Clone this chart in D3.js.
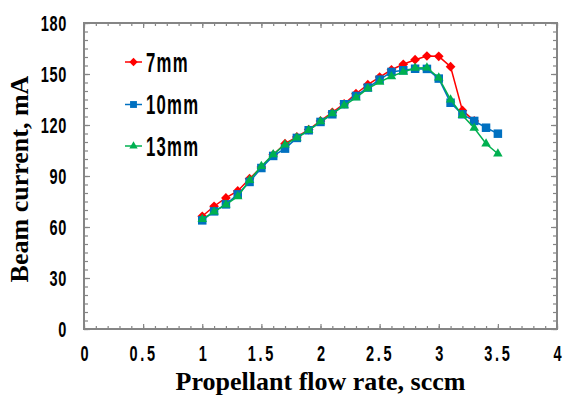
<!DOCTYPE html>
<html><head><meta charset="utf-8">
<script src="https://cdn.jsdelivr.net/npm/d3@7"></script>
<style>
body{margin:0;background:#fff;}
svg{display:block;}
</style></head>
<body>
<svg id="chart" width="563" height="398"></svg>
<script>
const flowRate = [1.0,1.1,1.2,1.3,1.4,1.5,1.6,1.7,1.8,1.9,2.0,2.1,2.2,2.3,2.4,2.5,2.6,2.7,2.8,2.9,3.0,3.1,3.2,3.3,3.4,3.5];
const current7mm  = [66.3,72.2,77.1,81.2,88.4,95.3,102.5,109,113,117.3,122.4,127.5,132.5,138.4,143.7,148.2,152.5,155.7,158.4,160.6,160.4,154.3,128.6,122.4];
const current10mm = [63.9,69.2,73.3,79.2,86.5,94.7,101.8,106.1,112.4,116.9,121.8,126.3,132.2,137.1,142,146.7,151.2,152.2,153.1,153,147.3,133.1,126.3,122.4,118.4,114.9];
const current13mm = [64.5,69,73.1,78,87.5,95.7,102.7,108.4,112.5,116.9,122,126.7,131.4,136.1,141.4,145.3,148.6,151.2,153.5,153.7,147.8,134.9,125.7,118.2,109,103.1];
const seriesNames = ["7mm","10mm","13mm"];
const xTicks = [0,0.5,1,1.5,2,2.5,3,3.5,4];
const yTicks = [0,30,60,90,120,150,180];

const svg = d3.select("#chart");
const X0=84, X1=557, Y0=23, Y1=329;
const x = d3.scaleLinear().domain([0,4]).range([X0,X1]);
const y = d3.scaleLinear().domain([0,180]).range([Y1,Y0]);
const frameColor = "#858585";
const numFont = "'Liberation Sans', Arial, sans-serif";
const SX = 0.66;

// minor ticks
const xMinor = d3.range(0,41).map(i=>i/10);
const yMinor = d3.range(0,37).map(i=>i*5);
function styleTicks(g){ g.select(".domain").remove(); g.selectAll("line").attr("stroke",frameColor).attr("stroke-width",1.2); }
svg.append("g").attr("transform",`translate(0,${Y1})`).call(d3.axisBottom(x).tickValues(xMinor).tickSize(-3).tickFormat("")).call(styleTicks);
svg.append("g").attr("transform",`translate(0,${Y0})`).call(d3.axisTop(x).tickValues(xMinor).tickSize(-3).tickFormat("")).call(styleTicks);
svg.append("g").attr("transform",`translate(${X0},0)`).call(d3.axisLeft(y).tickValues(yMinor).tickSize(-4).tickFormat("")).call(styleTicks);
svg.append("g").attr("transform",`translate(${X1},0)`).call(d3.axisRight(y).tickValues(yMinor).tickSize(-4).tickFormat("")).call(styleTicks);

// major ticks with labels
const gx = svg.append("g").attr("transform",`translate(0,${Y1})`)
  .call(d3.axisBottom(x).tickValues(xTicks).tickSize(-5).tickFormat(d=>String(d))).call(styleTicks);
gx.selectAll("text").attr("y",32.5).attr("dy",null).attr("transform",`scale(${SX},1)`)
  .attr("font-family",numFont).attr("font-size",22).attr("font-weight","bold").attr("fill","#000")
  .attr("letter-spacing",d=>String(d).length>1?4:0);
svg.append("g").attr("transform",`translate(0,${Y0})`).call(d3.axisTop(x).tickValues(xTicks).tickSize(-5).tickFormat("")).call(styleTicks);
const gy = svg.append("g").attr("transform",`translate(${X0},0)`)
  .call(d3.axisLeft(y).tickValues(yTicks).tickSize(-6).tickFormat(d=>String(d))).call(styleTicks);
gy.selectAll("text").attr("x",-17/SX).attr("dy",null).attr("y",7).attr("transform",`scale(${SX},1)`)
  .attr("font-family",numFont).attr("font-size",22).attr("font-weight","bold").attr("letter-spacing",1).attr("fill","#000");
svg.append("g").attr("transform",`translate(${X1},0)`).call(d3.axisRight(y).tickValues(yTicks).tickSize(-6).tickFormat("")).call(styleTicks);

// frame
svg.append("rect").attr("x",X0).attr("y",Y0).attr("width",X1-X0).attr("height",Y1-Y0)
  .attr("fill","none").attr("stroke",frameColor).attr("stroke-width",2);

// series
const series = [
  {name:seriesNames[0], vals:current7mm,  color:"#ff0000", sym:d3.symbolDiamond2, size:60, lsize:45},
  {name:seriesNames[1], vals:current10mm, color:"#0070c0", sym:d3.symbolSquare2,  size:92, lsize:60},
  {name:seriesNames[2], vals:current13mm, color:"#00b050", sym:d3.symbolTriangle2, size:65, lsize:50}
];
const line = d3.line().x(d=>x(d[0])).y(d=>y(d[1]));
series.forEach(s=>{
  const pts = s.vals.map((v,i)=>[flowRate[i],v]);
  svg.append("path").attr("d",line(pts)).attr("fill","none").attr("stroke",s.color).attr("stroke-width",1.5);
  svg.append("g").selectAll("path").data(pts).join("path")
    .attr("transform",d=>`translate(${x(d[0])},${y(d[1])})`)
    .attr("d",d3.symbol().type(s.sym).size(s.size)).attr("fill",s.color);
});

// legend
const legRows = [62,104.5,146];
series.forEach((s,i)=>{
  const g = svg.append("g").attr("transform",`translate(0,${legRows[i]})`);
  g.append("line").attr("x1",125).attr("x2",142).attr("y1",0).attr("y2",0).attr("stroke",s.color).attr("stroke-width",1.5);
  g.append("path").attr("transform","translate(133.5,0)").attr("d",d3.symbol().type(s.sym).size(s.lsize)).attr("fill",s.color);
  g.append("text").attr("transform",`translate(146,9.5) scale(0.62,1)`).attr("font-family",numFont)
    .attr("font-size",27).attr("font-weight","bold").attr("letter-spacing",2).attr("fill","#000").text(s.name);
});

// axis titles
svg.append("text").attr("x",(X0+X1)/2).attr("y",390).attr("text-anchor","middle")
  .attr("font-family","'Liberation Serif','Times New Roman',serif").attr("font-weight","bold").attr("font-size",26)
  .text("Propellant flow rate, sccm");
svg.append("text").attr("transform",`translate(28,${(Y0+Y1)/2+3}) rotate(-90)`).attr("text-anchor","middle")
  .attr("font-family","'Liberation Serif','Times New Roman',serif").attr("font-weight","bold").attr("font-size",26)
  .text("Beam current, mA");
</script>
</body></html>
